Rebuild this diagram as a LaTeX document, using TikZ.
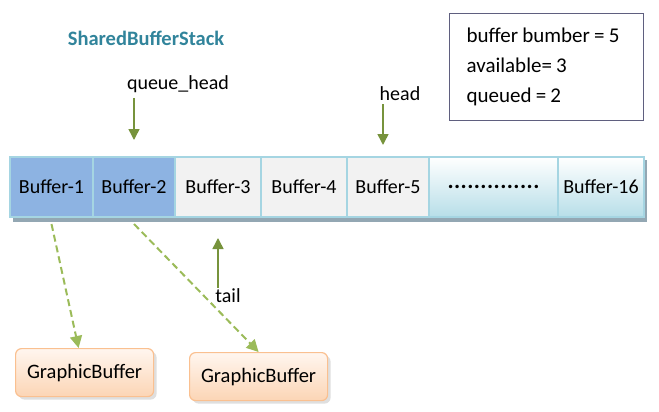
\documentclass[tikz,border=0pt]{standalone}
\usepackage{fontspec}
\setmainfont{Carlito}
\usetikzlibrary{positioning,arrows.meta,backgrounds,shadows}

\definecolor{bufblue}{HTML}{8DB3E2}
\definecolor{buffree}{HTML}{F2F2F2}
\definecolor{bufcyan}{HTML}{B7DEE8}
\definecolor{cellline}{HTML}{A5D5E2}
\definecolor{rowshade}{HTML}{93A7B3}
\definecolor{ptrgreen}{HTML}{77933C}
\definecolor{linkgreen}{HTML}{9BBB59}
\definecolor{titleteal}{HTML}{31849B}
\definecolor{infoline}{HTML}{5F5F7F}
\definecolor{gbline}{HTML}{FAC090}
\definecolor{gbtop}{HTML}{FFF6EF}
\definecolor{gbbottom}{HTML}{FCD5B5}

\begin{document}
\begin{tikzpicture}[x=1pt,y=-1pt,thick]
    % `slot' is one entry of the stack, `used' / `free' / `faded' its fillings.
    % `pointer' is used for the solid index arrows (head, tail ...).
    % `link' is used for the dashed arrows down to the graphic buffers.
    \tikzstyle{slot} = [draw=cellline,line width=1.2pt,outer sep=0pt,inner sep=0pt,minimum height=60pt,font=\fontsize{20}{24}\selectfont]
    \tikzstyle{used} = [slot,fill=bufblue]
    \tikzstyle{free} = [slot,fill=buffree]
    \tikzstyle{faded} = [slot,top color=white,bottom color=bufcyan]
    \tikzstyle{pointer} = [draw=ptrgreen,line width=1.5pt,-{Triangle[width=11pt,length=11pt]}]
    \tikzstyle{link} = [draw=linkgreen,line width=2pt,dash pattern=on 7pt off 4pt,-{Triangle[width=12pt,length=12pt]}]
    \tikzstyle{gbuf} = [draw=gbline,line width=1.2pt,rounded corners=6pt,top color=gbtop,bottom color=gbbottom,minimum width=138pt,minimum height=48pt,font=\fontsize{20.5}{24}\selectfont,drop shadow={shadow xshift=3pt,shadow yshift=-3pt,fill=black!25}]
    \tikzstyle{tag} = [font=\fontsize{20}{24}\selectfont,inner sep=1pt]
    %
    \useasboundingbox (0,0) rectangle (659,412);
    \node[font=\fontsize{20.5}{24}\selectfont\bfseries,text=titleteal] (title) at (146,38) {SharedBufferStack};
    % the stack itself
    \node[used,minimum width=83pt,anchor=north west] (b1) at (10,157) {Buffer-1};
    \node[used,minimum width=82pt,right=0pt of b1] (b2) {Buffer-2};
    \node[free,minimum width=86pt,right=0pt of b2] (b3) {Buffer-3};
    \node[free,minimum width=86pt,right=0pt of b3] (b4) {Buffer-4};
    \node[free,minimum width=82pt,right=0pt of b4] (b5) {Buffer-5};
    \node[faded,minimum width=129pt,right=0pt of b5] (bdots) {\fontsize{23}{24}\selectfont\bfseries\addfontfeature{LetterSpace=2}..............};
    \node[faded,minimum width=86pt,right=0pt of bdots] (b16) {Buffer-16};
    %
    \node[tag] (qh) at (178,84) {queue\_head};
    \node[tag] (hd) at (400,94) {head};
    \node[tag] (tl) at (228,296) {tail};
    \coordinate (qhtip) at ([yshift=17pt]b2.north);
    \coordinate (hdtip) at ([xshift=-5pt,yshift=12pt]b5.north);
    \coordinate (tltip) at ([yshift=-21pt]b3.south);
    \draw[pointer] ([yshift=-4pt]qh.south -| qhtip) -- (qhtip);
    \draw[pointer] ([yshift=-2pt]hd.south -| hdtip) -- (hdtip);
    \draw[pointer] (tl.north -| tltip) -- (tltip);
    %
    \node[gbuf,anchor=north west] (gb1) at (15,348) {GraphicBuffer};
    \node[gbuf,anchor=north west] (gb2) at (189,352) {GraphicBuffer};
    \draw[link] ([yshift=-7pt]b1.south) -- ([xshift=-6pt]gb1.north);
    \draw[link] ([yshift=-7pt]b2.south) -- (gb2.north);
    %
    \node[draw=infoline,line width=1.2pt,anchor=north west,text width=160pt,inner xsep=17pt,minimum height=107pt,align=left,font=\fontsize{21}{30}\selectfont] (info) at (449,13) {\spaceskip=4.2pt plus 1pt\relax buffer bumber = 5\\available= 3\\queued = 2};
    \begin{pgfonlayer}{background}
        % shadow under the row of slots
        \fill[rowshade] ([shift={(3pt,-5pt)}]b1.south west) rectangle ([shift={(3pt,-3pt)}]b16.north east);
    \end{pgfonlayer}
\end{tikzpicture}
\end{document}
